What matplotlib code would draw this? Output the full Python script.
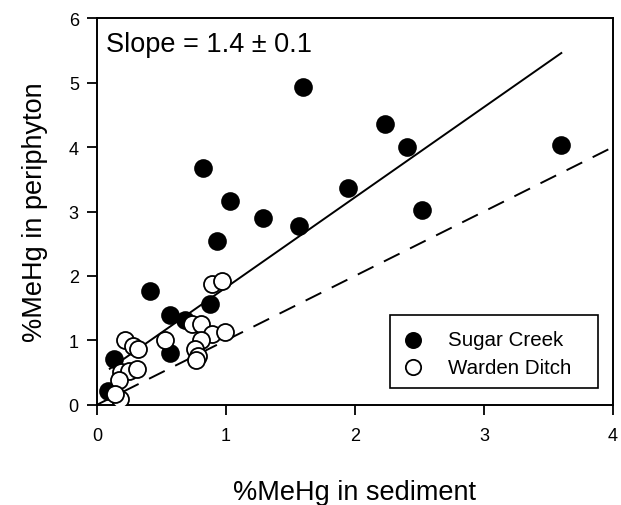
import numpy as np
import matplotlib
matplotlib.use("Agg")
import matplotlib.pyplot as plt
from matplotlib.patches import Rectangle

plt.rcParams["font.family"] = ["Liberation Sans", "DejaVu Sans"]

# Sugar Creek (filled circles): %MeHg in sediment vs periphyton
sugar_x = [0.09, 0.13, 0.41, 0.57, 0.57, 0.68, 0.88, 0.82, 1.03, 0.93,
           1.29, 1.57, 1.60, 1.95, 2.23, 2.40, 2.52, 3.60]
sugar_y = [0.21, 0.71, 1.77, 1.40, 0.80, 1.31, 1.57, 3.68, 3.17, 2.54,
           2.90, 2.78, 4.93, 3.36, 4.36, 4.00, 3.02, 4.04]

# Warden Ditch (open circles)
warden_x = [0.22, 0.28, 0.32, 0.53, 0.74, 0.81, 0.89, 0.97, 0.89, 0.99,
            0.81, 0.76, 0.78, 0.77, 0.19, 0.25, 0.31, 0.17, 0.18, 0.14]
warden_y = [1.00, 0.92, 0.86, 1.00, 1.26, 1.26, 1.88, 1.92, 1.10, 1.13,
            1.00, 0.87, 0.75, 0.69, 0.51, 0.53, 0.56, 0.38, 0.09, 0.17]

# regression line (slope 1.4) and 1:1 reference
fit_slope = 1.4
fit_icpt = 0.42
fit_range = [0.1, 3.6]
ref_range = [0.0, 4.0]

fig, ax = plt.subplots(figsize=(6.21, 5.06), dpi=100)
fig.subplots_adjust(left=0.156, right=0.987, bottom=0.198, top=0.962)

fx = np.array(fit_range)
ax.plot(fx, fit_slope * fx + fit_icpt, color="black", lw=1.4, zorder=1)
rx = np.array(ref_range)
ax.plot(rx, rx, color="black", lw=1.4, dashes=(9, 6), zorder=1)

ax.scatter(sugar_x, sugar_y, s=150, color="black", edgecolor="black",
           linewidths=1.2, label="Sugar Creek", zorder=3)
ax.scatter(warden_x, warden_y, s=150, facecolor="white", edgecolor="black",
           linewidths=1.3, label="Warden Ditch", zorder=3)

ax.set_xlim(0, 4)
ax.set_ylim(0, 6)
ax.set_xticks([0, 1, 2, 3, 4])
ax.set_yticks([0, 1, 2, 3, 4, 5, 6])
ax.tick_params(direction="out", length=7, width=1.3, labelsize=13)
ax.tick_params(axis="x", pad=9)
ax.tick_params(axis="y", pad=6)
for sp in ax.spines.values():
    sp.set_linewidth(1.4)

ax.set_xlabel("%MeHg in sediment", fontsize=19.5, labelpad=25)
ax.set_ylabel("%MeHg in periphyton", fontsize=19.5, labelpad=15)
ax.text(0.07, 5.6, "Slope = 1.4 \u00b1 0.1", fontsize=19.5, va="center")

# legend: frameless entries plus a separate box with uneven padding
leg = ax.legend(loc="center left", fontsize=14.8, frameon=False,
                borderpad=0, handlelength=1.0, handletextpad=1.2,
                labelspacing=0.43, borderaxespad=0,
                bbox_to_anchor=(0.593, 0.133), markerscale=0.9)
ax.add_patch(Rectangle((0.568, 0.044), 0.403, 0.189, transform=ax.transAxes,
                       facecolor="white", edgecolor="black", lw=1.2, zorder=4))
leg.set_zorder(5)

fig.savefig("out.png", dpi=100, facecolor="white")
